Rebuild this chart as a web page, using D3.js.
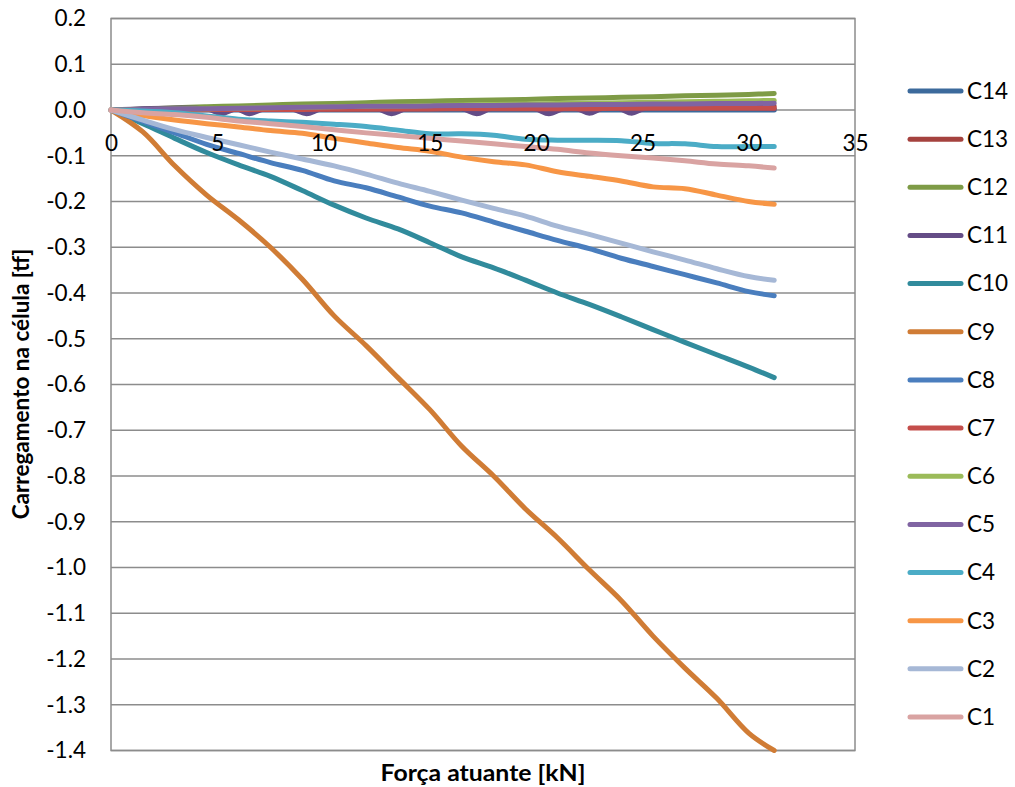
<!DOCTYPE html>
<html>
<head>
<meta charset="utf-8">
<script src="https://cdn.jsdelivr.net/npm/d3@7"></script>
<style>
  html, body { margin: 0; padding: 0; background: #fff; }
  svg { display: block; font-family: Lato, "Open Sans", sans-serif; }
</style>
</head>
<body>
<svg id="chart" width="1015" height="787"></svg>
<script>
// ---- data ----
const xs = [0, 1.5, 3, 4.5, 6, 7.5, 9, 10.5, 12, 13.5, 15, 16.5, 18, 19.5, 21, 22.5, 24, 25.5, 27, 28.5, 30, 31.2];

const C1  = [0, -0.006, -0.010, -0.016, -0.024, -0.030, -0.036, -0.043, -0.050, -0.056, -0.062, -0.068, -0.074, -0.080, -0.086, -0.094, -0.100, -0.105, -0.111, -0.118, -0.122, -0.127];
const C2  = [0, -0.022, -0.043, -0.060, -0.076, -0.092, -0.107, -0.122, -0.140, -0.160, -0.178, -0.197, -0.215, -0.232, -0.254, -0.272, -0.291, -0.310, -0.328, -0.347, -0.364, -0.372];
const C3  = [0, -0.012, -0.022, -0.030, -0.037, -0.045, -0.051, -0.062, -0.072, -0.082, -0.090, -0.103, -0.113, -0.120, -0.135, -0.145, -0.155, -0.168, -0.172, -0.186, -0.200, -0.206];
const C4  = [0, -0.002, -0.006, -0.013, -0.020, -0.024, -0.027, -0.031, -0.036, -0.044, -0.052, -0.052, -0.055, -0.064, -0.066, -0.066, -0.067, -0.073, -0.074, -0.080, -0.080, -0.080];
const C5  = [0, 0.001, 0.002, 0.003, 0.004, 0.005, 0.006, 0.007, 0.008, 0.008, 0.009, 0.010, 0.010, 0.011, 0.011, 0.012, 0.012, 0.013, 0.013, 0.014, 0.014, 0.015];
const C6  = [0, 0.001, 0.002, 0.003, 0.004, 0.005, 0.006, 0.007, 0.008, 0.009, 0.010, 0.011, 0.012, 0.013, 0.014, 0.015, 0.016, 0.017, 0.018, 0.019, 0.020, 0.021];
const C7  = [0, 0.000, 0.000, 0.001, 0.001, 0.001, 0.001, 0.002, 0.002, 0.002, 0.002, 0.003, 0.003, 0.003, 0.003, 0.003, 0.004, 0.004, 0.004, 0.004, 0.004, 0.004];
const C8  = [0, -0.025, -0.050, -0.075, -0.095, -0.115, -0.132, -0.155, -0.170, -0.190, -0.210, -0.225, -0.245, -0.265, -0.285, -0.303, -0.324, -0.342, -0.360, -0.378, -0.397, -0.406];
const C9  = [0, -0.048, -0.122, -0.186, -0.240, -0.300, -0.370, -0.450, -0.515, -0.585, -0.655, -0.735, -0.800, -0.872, -0.935, -1.005, -1.072, -1.150, -1.220, -1.286, -1.362, -1.400];
const C10 = [0, -0.030, -0.062, -0.093, -0.120, -0.145, -0.176, -0.208, -0.236, -0.260, -0.290, -0.321, -0.345, -0.372, -0.400, -0.425, -0.452, -0.480, -0.508, -0.535, -0.562, -0.585];
const C12 = [0, 0.002, 0.005, 0.007, 0.009, 0.011, 0.013, 0.014, 0.016, 0.018, 0.019, 0.021, 0.022, 0.023, 0.025, 0.026, 0.028, 0.029, 0.031, 0.032, 0.034, 0.036];
const C14 = [0, 0.000, 0.000, 0.000, 0.000, 0.000, 0.000, 0.000, 0.000, 0.000, 0.000, 0.000, 0.000, 0.000, 0.000, 0.000, 0.000, 0.000, 0.000, 0.000, 0.000, 0.000];

// C11 and C13 have their own readings (wiggles)
const xsC11 = [0, 4.5, 5.2, 5.9, 6.5, 7.2, 8.5, 9.2, 9.9, 12.5, 13.2, 13.9, 16.5, 17.2, 17.9, 19.9, 20.6, 21.3, 21.9, 22.5, 23.1, 23.9, 24.5, 25.1, 31.2];
const C11   = [0, 0.002, -0.008, 0.002, -0.008, 0.002, 0.002, -0.008, 0.002, 0.003, -0.008, 0.003, 0.003, -0.008, 0.003, 0.003, -0.008, 0.003, 0.003, -0.007, 0.003, 0.003, -0.007, 0.003, 0.003];
const xsC13 = [0, 6, 12, 18, 24, 25.2, 25.8, 26.4, 28, 31.2];
const C13   = [0, 0.001, 0.002, 0.004, 0.005, 0.006, 0.016, 0.007, 0.007, 0.008];

const seriesNames = ["C14", "C13", "C12", "C11", "C10", "C9", "C8", "C7", "C6", "C5", "C4", "C3", "C2", "C1"];
const seriesColors = ["#3c6a9c", "#a5423e", "#7e9b46", "#644c86", "#318b9c", "#d07c35", "#4a7ebe", "#c44e4b", "#9bbb59", "#8064a2", "#4bacc6", "#f79646", "#a6b8d6", "#d9a3a2"];
const seriesX = [xs, xsC13, xs, xsC11, xs, xs, xs, xs, xs, xs, xs, xs, xs, xs];
const seriesY = [C14, C13, C12, C11, C10, C9, C8, C7, C6, C5, C4, C3, C2, C1];

const xTicks = [0, 5, 10, 15, 20, 25, 30, 35];
const yTicks = [0.2, 0.1, 0.0, -0.1, -0.2, -0.3, -0.4, -0.5, -0.6, -0.7, -0.8, -0.9, -1.0, -1.1, -1.2, -1.3, -1.4];

const xTitle = "Força atuante [kN]";
const yTitle = "Carregamento na célula [tf]";

// ---- layout ----
const svg = d3.select("#chart");
const L = 111, R = 855, T = 18.5, B = 750.5;
const x = d3.scaleLinear().domain([0, 35]).range([L, R]);
const y = d3.scaleLinear().domain([-1.4, 0.2]).range([B, T]);
const gridColor = "#8c8c8c";
const fontSize = 22.5;

// horizontal gridlines
svg.append("g").selectAll("line").data(yTicks).join("line")
  .attr("x1", L).attr("x2", R)
  .attr("y1", d => y(d)).attr("y2", d => y(d))
  .attr("stroke", gridColor).attr("stroke-width", 1.5);

// plot border
svg.append("rect").attr("x", L).attr("y", T).attr("width", R - L).attr("height", B - T)
  .attr("fill", "none").attr("stroke", gridColor).attr("stroke-width", 1.5);

// y tick labels
svg.append("g").selectAll("text").data(yTicks).join("text")
  .attr("x", 86).attr("y", d => y(d)).attr("dy", "0.35em")
  .attr("text-anchor", "end").attr("font-size", fontSize).attr("fill", "#000")
  .text(d => d3.format(".1f")(d).replace("−", "-"));

// series lines
const lineGen = (xsArr) => d3.line()
  .x((d, i) => x(xsArr[i]))
  .y(d => y(d))
  .curve(d3.curveCatmullRom.alpha(0.5));

const gl = svg.append("g");
seriesY.forEach((vals, k) => {
  gl.append("path")
    .attr("d", lineGen(seriesX[k])(vals))
    .attr("fill", "none")
    .attr("stroke", seriesColors[k])
    .attr("stroke-width", 5)
    .attr("stroke-linecap", "round")
    .attr("stroke-linejoin", "round");
});

// x axis (at y = 0), labels drawn over the lines
const xAxis = d3.axisBottom(x).tickValues(xTicks).tickSize(0).tickPadding(0).tickFormat(d3.format("d"));
const gx = svg.append("g").attr("transform", `translate(0,${y(0)})`).call(xAxis);
gx.select(".domain").remove();
gx.selectAll("text").attr("font-size", fontSize).attr("font-family", "Lato, sans-serif")
  .attr("fill", "#000").attr("y", 33).attr("dy", "0.35em");

// axis titles
svg.append("text").attr("x", 483).attr("y", 773).attr("dy", "0.35em")
  .attr("text-anchor", "middle").attr("font-size", fontSize).attr("font-weight", "bold")
  .attr("textLength", 205).attr("lengthAdjust", "spacingAndGlyphs")
  .text(xTitle);
svg.append("text").attr("transform", "translate(21,384) rotate(-90)").attr("dy", "0.35em")
  .attr("text-anchor", "middle").attr("font-size", fontSize).attr("font-weight", "bold")
  .text(yTitle);

// legend
const leg = svg.append("g");
const legY = d3.scaleLinear().domain([0, 13]).range([91, 717]);
seriesNames.forEach((name, i) => {
  leg.append("line").attr("x1", 910).attr("x2", 961)
    .attr("y1", legY(i)).attr("y2", legY(i))
    .attr("stroke", seriesColors[i]).attr("stroke-width", 5).attr("stroke-linecap", "round");
  leg.append("text").attr("x", 967).attr("y", legY(i)).attr("dy", "0.35em")
    .attr("font-size", fontSize).text(name);
});
</script>
</body>
</html>
